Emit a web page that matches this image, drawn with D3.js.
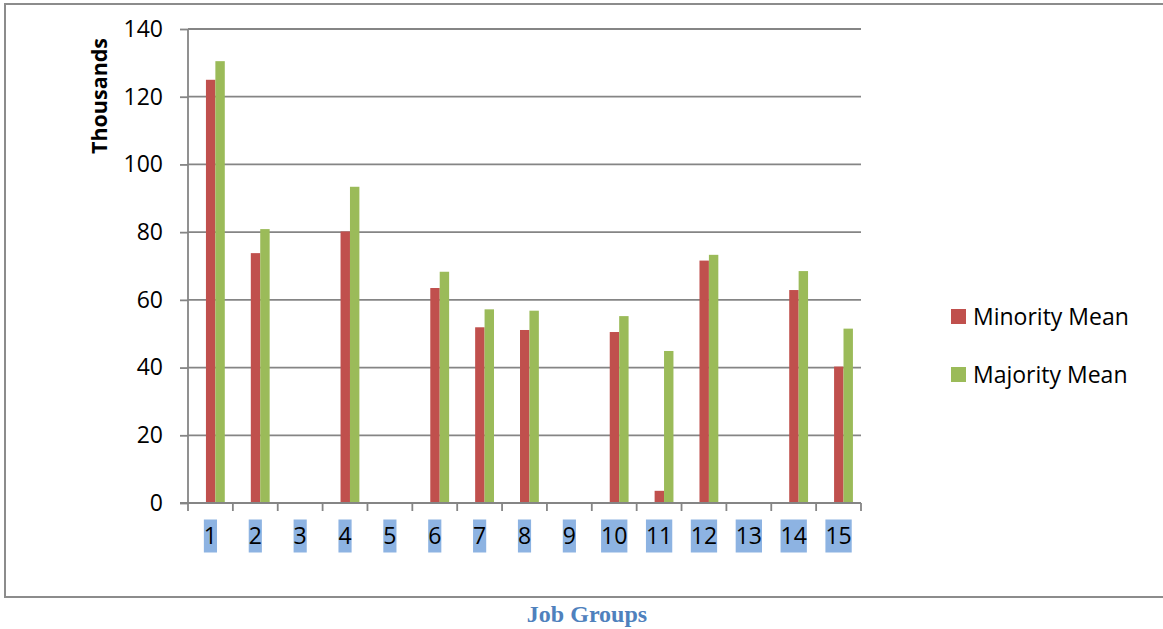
<!DOCTYPE html>
<html>
<head>
<meta charset="utf-8">
<script src="https://cdn.jsdelivr.net/npm/d3@7"></script>
<style>
  body { margin: 0; background: #fff; }
  svg text { font-family: "Open Sans", "Noto Sans", sans-serif; }
</style>
</head>
<body>
<div id="chart"></div>
<script>
// job groups and the two series (thousands)
const groups = ["1", "2", "3", "4", "5", "6", "7", "8", "9", "10", "11", "12", "13", "14", "15"];
const minorityMean = [125, 73.8, 0, 80.2, 0, 63.5, 51.9, 51.1, 0, 50.5, 3.6, 71.6, 0, 62.9, 40.3];
const majorityMean = [130.5, 80.9, 0, 93.4, 0, 68.3, 57.2, 56.8, 0, 55.2, 44.9, 73.3, 0, 68.5, 51.5];
const seriesNames = ["Minority Mean", "Majority Mean"];
const yTicks = [0, 20, 40, 60, 80, 100, 120, 140];

const colors = ["#C0504D", "#9BBB59"];
const W = 1163, H = 629;
const margin = { top: 29, right: 302, bottom: 126, left: 188 };
const width = W - margin.left - margin.right;
const height = H - margin.top - margin.bottom;

const data = groups.map((g, i) => ({ group: g, values: [minorityMean[i], majorityMean[i]] }));

const svg = d3.select("#chart").append("svg")
  .attr("width", W)
  .attr("height", H);

// outer frame (right edge runs off the picture)
svg.append("path")
  .attr("d", `M${W + 5},4 H5 V597 H${W + 5}`)
  .attr("fill", "none")
  .attr("stroke", "#8c8c8c")
  .attr("stroke-width", 2);

const g = svg.append("g").attr("transform", `translate(${margin.left},${margin.top})`);

const x = d3.scaleBand().domain(groups).range([0, width]).padding(0);
const bw = x.bandwidth();
const xs = d3.scaleBand().domain([0, 1]).range([bw * 0.4, bw * 0.82]).padding(0);
const y = d3.scaleLinear().domain([0, 140]).range([height, 0]);

// gridlines
g.append("g")
  .selectAll("line")
  .data(yTicks.filter(d => d > 0))
  .join("line")
  .attr("x1", 0).attr("x2", width)
  .attr("y1", d => y(d)).attr("y2", d => y(d))
  .attr("stroke", "#858585")
  .attr("stroke-width", 1.8);

// bars
const grp = g.append("g")
  .selectAll("g")
  .data(data)
  .join("g")
  .attr("transform", d => `translate(${x(d.group)},0)`);

grp.selectAll("rect")
  .data(d => d.values.map((v, i) => ({ i, v })).filter(e => e.v > 0))
  .join("rect")
  .attr("x", d => xs(d.i))
  .attr("width", xs.bandwidth())
  .attr("y", d => y(d.v))
  .attr("height", d => height - y(d.v))
  .attr("fill", d => colors[d.i]);

// y axis
const yAxis = g.append("g")
  .call(d3.axisLeft(y).tickValues(yTicks).tickSize(8).tickPadding(17));
yAxis.select(".domain").attr("stroke", "#858585").attr("stroke-width", 1.8).attr("d", `M0,0V${height}`);
yAxis.selectAll(".tick line").attr("stroke", "#858585").attr("stroke-width", 1.8);
yAxis.selectAll(".tick text")
  .attr("font-size", 23)
  .attr("fill", "#000")
  .style("font-family", "'Open Sans', sans-serif");

// x axis: line and ticks at band edges
const xa = g.append("g").attr("transform", `translate(0,${height})`);
xa.append("line")
  .attr("x1", -8).attr("x2", width)
  .attr("stroke", "#858585").attr("stroke-width", 1.8);
xa.selectAll(".edge")
  .data(groups.map(d => x(d)).concat([width]))
  .join("line")
  .attr("class", "edge")
  .attr("x1", d => d).attr("x2", d => d)
  .attr("y1", 0).attr("y2", 8)
  .attr("stroke", "#858585").attr("stroke-width", 1.8);

// x labels with highlighted background
const lab = xa.selectAll(".lab")
  .data(groups)
  .join("g")
  .attr("class", "lab")
  .attr("transform", d => `translate(${x(d) + bw / 2},33)`);
lab.append("text")
  .attr("text-anchor", "middle")
  .attr("dy", "0.35em")
  .attr("font-size", 23)
  .attr("fill", "#000")
  .text(d => d);
lab.each(function() {
  const t = d3.select(this).select("text");
  const b = t.node().getBBox();
  d3.select(this).insert("rect", "text")
    .attr("x", b.x)
    .attr("y", -16.5)
    .attr("width", b.width)
    .attr("height", 33)
    .attr("fill", "#8DB3E2");
});

// y axis title
svg.append("text")
  .attr("transform", "translate(99,96) rotate(-90)")
  .attr("text-anchor", "middle")
  .attr("dy", "0.35em")
  .attr("font-size", 21.5)
  .attr("font-weight", "bold")
  .attr("fill", "#000")
  .text("Thousands");

// legend
const legend = svg.append("g")
  .selectAll("g")
  .data(seriesNames)
  .join("g")
  .attr("transform", (d, i) => `translate(951,${309 + i * 58})`);
legend.append("rect")
  .attr("width", 15).attr("height", 15)
  .attr("fill", (d, i) => colors[i]);
legend.append("text")
  .attr("x", 22).attr("y", 8)
  .attr("dy", "0.35em")
  .attr("font-size", 23)
  .attr("fill", "#000")
  .text(d => d);

// x axis title below the frame
svg.append("text")
  .attr("x", 587).attr("y", 622)
  .attr("text-anchor", "middle")
  .attr("font-size", 24)
  .attr("font-weight", "bold")
  .attr("fill", "#4F81BD")
  .style("font-family", "'Liberation Serif', 'Times New Roman', serif")
  .text("Job Groups");
</script>
</body>
</html>
